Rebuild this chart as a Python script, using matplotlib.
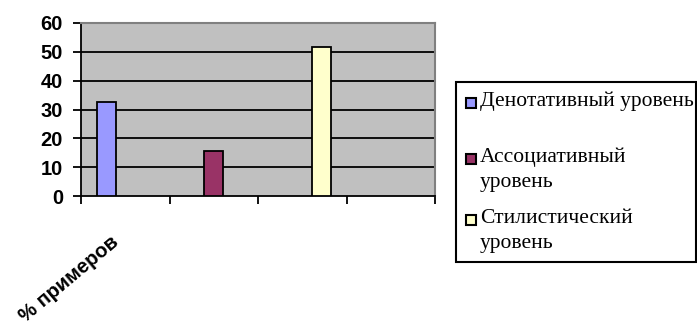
import matplotlib
matplotlib.use("Agg")
import matplotlib.pyplot as plt
from matplotlib.patches import Rectangle
import matplotlib.transforms as mtransforms
import numpy as np

# Data
categories = ["% примеров", "", "", ""]
series_names = ["Денотативный уровень", "Ассоциативный\nуровень", "Стилистический\nуровень"]
series_values = [
    [32.5, np.nan, np.nan, np.nan],
    [np.nan, 15.5, np.nan, np.nan],
    [np.nan, np.nan, 51.7, np.nan],
]
series_colors = ["#9999FF", "#993366", "#FFFFCC"]
yticks = [0, 10, 20, 30, 40, 50, 60]

W, H = 697, 329
fig = plt.figure(figsize=(W / 100, H / 100), dpi=100)
fig.patch.set_facecolor("white")

L, R, T, B = 81, 435, 23, 196
ax = fig.add_axes([L / W, (H - B) / H, (R - L) / W, (B - T) / H])
ax.set_facecolor("#C0C0C0")

x = np.arange(len(categories))
nser = len(series_values)
bw = 0.215
for i, (vals, col) in enumerate(zip(series_values, series_colors)):
    ax.bar(x + (i - (nser - 1) / 2) * bw, vals, width=bw, color=col,
           edgecolor="black", linewidth=1.3, zorder=3)

ax.set_xlim(-0.5, len(categories) - 0.5)
ax.set_ylim(0, 60)
ax.set_yticks(yticks)
ax.set_yticklabels([str(v) for v in yticks], fontsize=14.5, fontweight="bold",
                   family="Liberation Sans")
for v in yticks[1:]:
    ax.axhline(v, color="black", linewidth=1.3, zorder=1)

# x ticks at category boundaries, labels at centers
ax.set_xticks(np.arange(len(categories) + 1) - 0.5)
ax.set_xticklabels([])
trans = mtransforms.blended_transform_factory(ax.transData, ax.transAxes)
for xi, lab in zip(x, categories):
    if lab:
        ax.annotate(lab, xy=(xi, 0), xycoords=trans, xytext=(-11, -26),
                    textcoords="offset points", rotation=40, ha="right", va="top",
                    rotation_mode="anchor", fontsize=14.5, fontweight="bold",
                    family="Liberation Sans", annotation_clip=False)
ax.tick_params(axis="x", which="major", length=6, width=1.3, direction="out", color="black")
ax.tick_params(axis="y", length=6, width=1.3, direction="out", pad=7)

ax.spines["left"].set_linewidth(1.3)
ax.spines["bottom"].set_linewidth(1.3)
ax.spines["top"].set_color("#808080")
ax.spines["right"].set_color("#808080")
ax.spines["top"].set_linewidth(1.5)
ax.spines["right"].set_linewidth(1.5)

# Legend (drawn manually to match layout)
lx0, lx1, ly0, ly1 = 456, 696, 82, 262
fig.patches.append(Rectangle((lx0 / W, 1 - ly1 / H), (lx1 - lx0) / W, (ly1 - ly0) / H,
                             transform=fig.transFigure, fill=False,
                             edgecolor="black", linewidth=1.5))
entry_y = [103, 159, 220]
for name, col, yy in zip(series_names, series_colors, entry_y):
    sq = 10
    fig.patches.append(Rectangle((466 / W, 1 - (yy + sq / 2) / H), sq / W, sq / H,
                                 transform=fig.transFigure, facecolor=col,
                                 edgecolor="black", linewidth=1.5))
    fig.text(480 / W, 1 - (yy - 11) / H, name, fontsize=15.5, family="Liberation Serif",
             va="top", ha="left", linespacing=1.4)

fig.savefig("out.png", dpi=100)
